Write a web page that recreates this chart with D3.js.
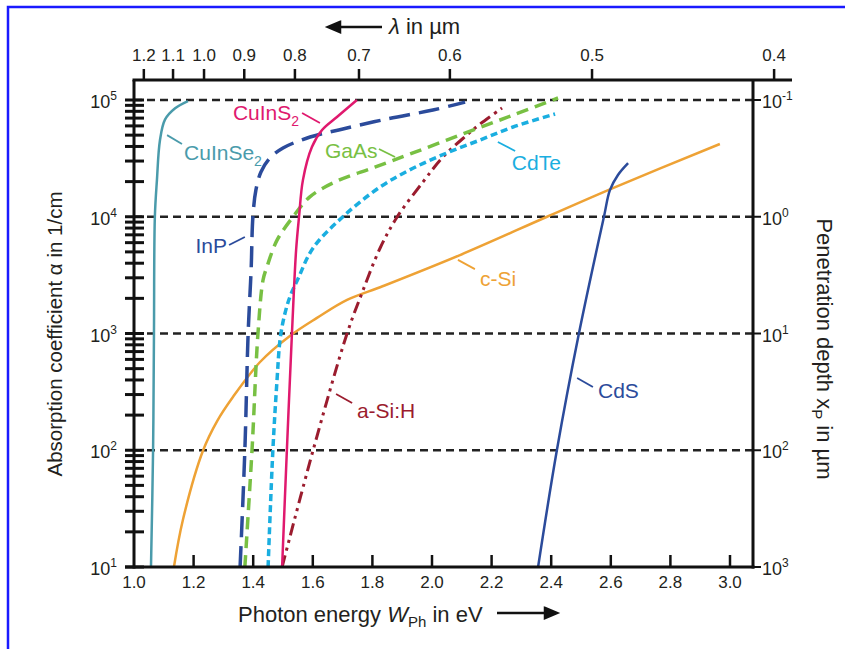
<!DOCTYPE html>
<html>
<head>
<meta charset="utf-8">
<script src="https://cdn.jsdelivr.net/npm/d3@7"></script>
<style>
  body { margin: 0; background: #fff; }
  svg { display: block; }
  text { font-family: "Liberation Sans", Arial, Helvetica, sans-serif; fill: #231f20; }
</style>
</head>
<body>
<div id="chart"></div>
<script>
// absorption curves: [photon energy in eV, alpha in 1/cm]
const cuInSe2 = [[1.057, 10], [1.064, 100], [1.067, 1000], [1.070, 1e4], [1.077, 2.07e4],
                 [1.087, 4.5e4], [1.104, 6.8e4], [1.138, 8.5e4], [1.181, 9.8e4]];
const inP = [[1.356, 10], [1.372, 100], [1.383, 1000], [1.393, 3500], [1.399, 1e4], [1.409, 1.69e4],
             [1.426, 2.42e4], [1.456, 3.18e4], [1.50, 3.88e4], [1.591, 4.82e4], [1.701, 5.65e4],
             [1.849, 6.88e4], [2.003, 8.2e4], [2.111, 9.6e4]];
const cuInS2 = [[1.497, 10], [1.513, 100], [1.530, 1000], [1.544, 5190], [1.554, 1.01e4],
                [1.567, 2.07e4], [1.597, 3.95e4], [1.631, 5.53e4], [1.681, 7.15e4], [1.748, 1e5]];
const gaAs = [[1.372, 10], [1.396, 100], [1.416, 1000], [1.433, 2870], [1.446, 3715], [1.48, 6300],
              [1.534, 1e4], [1.59, 1.48e4], [1.681, 2.02e4], [1.802, 2.62e4], [1.936, 3.52e4],
              [2.104, 5.12e4], [2.272, 7.43e4], [2.423, 1.04e5]];
const cdTe = [[1.45, 10], [1.466, 100], [1.48, 400], [1.49, 879], [1.503, 1360], [1.523, 2055],
              [1.55, 2930], [1.601, 5400], [1.701, 1e4], [1.826, 1.8e4], [1.936, 2.6e4],
              [2.05, 3.52e4], [2.161, 4.54e4], [2.272, 5.87e4], [2.413, 7.59e4]];
const aSiH = [[1.497, 10], [1.601, 100], [1.715, 1000], [1.765, 2220], [1.826, 5400], [1.883, 9950],
              [1.97, 1.99e4], [2.037, 3.25e4], [2.117, 5.01e4], [2.161, 6.22e4], [2.235, 8.53e4]];
const cSi = [[1.134, 10], [1.164, 25.3], [1.232, 100], [1.279, 178], [1.332, 286], [1.423, 570],
             [1.523, 953], [1.614, 1360], [1.715, 1940], [1.836, 2550], [2.094, 4700],
             [2.386, 1e4], [2.607, 1.76e4], [2.966, 4.2e4]];
const cdS = [[2.356, 10], [2.419, 100], [2.493, 1000], [2.577, 1e4], [2.597, 1.69e4],
             [2.624, 2.28e4], [2.658, 2.88e4]];

// axis ticks
const energyTicks = [1.0, 1.2, 1.4, 1.6, 1.8, 2.0, 2.2, 2.4, 2.6, 2.8, 3.0];
const alphaDecades = [1, 2, 3, 4, 5];
const depthDecades = [-1, 0, 1, 2, 3];
const lambdaTicks = ["1.2", "1.1", "1.0", "0.9", "0.8", "0.7", "0.6", "0.5", "0.4"];
const lambdaTickEnergy = [1.033, 1.131, 1.235, 1.37, 1.54, 1.755, 2.06, 2.537, 3.148];

// curve labels: text anchor [E, alpha], leader from / to
const curveLabels = [
  { text: "CuInSe", sub: "2", at: [1.168, 3.06e4], anchor: "start", from: [1.111, 5.0e4], to: [1.161, 4.2e4], color: "#4a9bab" },
  { text: "InP", sub: "", at: [1.312, 4900], anchor: "end", from: [1.319, 5730], to: [1.372, 6710], color: "#2b4b9b" },
  { text: "CuInS", sub: "2", at: [1.332, 6.75e4], anchor: "start", from: [1.564, 7.75e4], to: [1.624, 6.36e4], color: "#e0196e" },
  { text: "GaAs", sub: "", at: [1.641, 3.18e4], anchor: "start", from: [1.822, 3.8e4], to: [1.876, 3.25e4], color: "#78c043" },
  { text: "CdTe", sub: "", at: [2.268, 2.51e4], anchor: "start", from: [2.221, 4.37e4], to: [2.279, 3.66e4], color: "#1aaee0" },
  { text: "c-Si", sub: "", at: [2.161, 2550], anchor: "start", from: [2.087, 4270], to: [2.144, 3560], color: "#eea235" },
  { text: "a-Si:H", sub: "", at: [1.748, 189], anchor: "start", from: [1.678, 303], to: [1.732, 254], color: "#9b1c2e" },
  { text: "CdS", sub: "", at: [2.557, 281], anchor: "start", from: [2.487, 416], to: [2.54, 348], color: "#2b4b9b" }
];

const series = [
  { data: cuInSe2, color: "#4a9bab", w: 2.5, dash: null },
  { data: cSi, color: "#eea235", w: 2.5, dash: null },
  { data: cdS, color: "#2b4b9b", w: 2.5, dash: null },
  { data: aSiH, color: "#9b1c2e", w: 3, dash: "12,5,3,5,3,5" },
  { data: cdTe, color: "#1aaee0", w: 3.5, dash: "7,4" },
  { data: gaAs, color: "#78c043", w: 3.5, dash: "12,7" },
  { data: inP, color: "#2b4b9b", w: 3.5, dash: "21,9" },
  { data: cuInS2, color: "#e0196e", w: 2.5, dash: null }
];

const width = 845, height = 649;
const plotLeft = 134, plotRight = 753, plotTop = 80, plotBottom = 567;

const svg = d3.select("#chart").append("svg")
  .attr("width", width)
  .attr("height", height);

// blue frame of the figure
svg.append("path")
  .attr("d", `M8,${height} V7 H${width}`)
  .attr("fill", "none")
  .attr("stroke", "#1a1aff")
  .attr("stroke-width", 2.5);

const x = d3.scaleLinear().domain([1.0, 3.0]).range([plotLeft, 730]);
const y = d3.scaleLog().domain([10, 1e5]).range([plotBottom, 100]);

// dashed decade lines
svg.append("g")
  .selectAll("line")
  .data(alphaDecades.filter(d => d > 1))
  .join("line")
  .attr("x1", plotLeft).attr("x2", plotRight)
  .attr("y1", d => y(Math.pow(10, d))).attr("y2", d => y(Math.pow(10, d)))
  .attr("stroke", "#222")
  .attr("stroke-width", 2.5)
  .attr("stroke-dasharray", "8,5");

// curves
const line = d3.line()
  .x(d => x(d[0]))
  .y(d => y(d[1]))
  .curve(d3.curveCatmullRom.alpha(0.5));

svg.append("g")
  .selectAll("path")
  .data(series)
  .join("path")
  .attr("d", d => line(d.data))
  .attr("fill", "none")
  .attr("stroke", d => d.color)
  .attr("stroke-width", d => d.w)
  .attr("stroke-dasharray", d => d.dash);

// curve labels
const lab = svg.append("g")
  .selectAll("g")
  .data(curveLabels)
  .join("g");

lab.append("line")
  .attr("x1", d => x(d.from[0])).attr("y1", d => y(d.from[1]))
  .attr("x2", d => x(d.to[0])).attr("y2", d => y(d.to[1]))
  .attr("stroke", d => d.color)
  .attr("stroke-width", 1.8);

const labText = lab.append("text")
  .attr("x", d => x(d.at[0]))
  .attr("y", d => y(d.at[1]))
  .attr("text-anchor", d => d.anchor)
  .attr("font-size", 21)
  .style("fill", d => d.color);
labText.append("tspan").text(d => d.text);
labText.filter(d => d.sub).append("tspan")
  .attr("dy", 6)
  .attr("font-size", 14)
  .text(d => d.sub);

// axis frame
const axis = svg.append("g").attr("stroke", "#111").attr("fill", "none");
axis.append("line").attr("x1", plotLeft).attr("x2", plotLeft).attr("y1", plotTop).attr("y2", plotBottom + 1.5).attr("stroke-width", 3);
axis.append("line").attr("x1", plotRight).attr("x2", plotRight).attr("y1", plotTop).attr("y2", plotBottom + 1.5).attr("stroke-width", 3);
axis.append("line").attr("x1", 125).attr("x2", plotRight + 1.5).attr("y1", plotBottom).attr("y2", plotBottom).attr("stroke-width", 3);
axis.append("line").attr("x1", plotLeft - 1.5).attr("x2", 792).attr("y1", plotTop).attr("y2", plotTop).attr("stroke-width", 3);

// left ticks, decades and 2..9 minors
const leftTicks = [];
alphaDecades.forEach(p => {
  leftTicks.push(Math.pow(10, p));
  if (p < 5) for (let m = 2; m <= 9; m++) leftTicks.push(m * Math.pow(10, p));
});
axis.selectAll(".lt")
  .data(leftTicks)
  .join("line")
  .attr("x1", 125).attr("x2", 144)
  .attr("y1", d => y(d)).attr("y2", d => y(d))
  .attr("stroke-width", 3);

// bottom ticks
axis.selectAll(".bt")
  .data(energyTicks.slice(1))
  .join("line")
  .attr("x1", d => x(d)).attr("x2", d => x(d))
  .attr("y1", plotBottom).attr("y2", plotBottom - 12)
  .attr("stroke-width", 2.5);

// top ticks (wavelength)
axis.selectAll(".tt")
  .data(lambdaTickEnergy)
  .join("line")
  .attr("x1", d => x(d)).attr("x2", d => x(d))
  .attr("y1", plotTop).attr("y2", plotTop - 11)
  .attr("stroke-width", 2.5);

// right ticks
axis.selectAll(".rt")
  .data(depthDecades)
  .join("line")
  .attr("x1", plotRight).attr("x2", plotRight + 8)
  .attr("y1", d => y(1e4 / Math.pow(10, d))).attr("y2", d => y(1e4 / Math.pow(10, d)))
  .attr("stroke-width", 2);

// tick labels
const fmt = d3.format(".1f");
svg.append("g")
  .selectAll("text")
  .data(energyTicks)
  .join("text")
  .attr("x", d => x(d))
  .attr("y", 588)
  .attr("text-anchor", "middle")
  .attr("font-size", 17)
  .text(d => fmt(d));

svg.append("g")
  .selectAll("text")
  .data(lambdaTicks)
  .join("text")
  .attr("x", (d, i) => x(lambdaTickEnergy[i]))
  .attr("y", 61)
  .attr("text-anchor", "middle")
  .attr("font-size", 17)
  .text(d => d);

const leftLab = svg.append("g")
  .selectAll("text")
  .data(alphaDecades)
  .join("text")
  .attr("x", 117)
  .attr("y", d => y(Math.pow(10, d)) + 8)
  .attr("text-anchor", "end")
  .attr("font-size", 18);
leftLab.append("tspan").text("10");
leftLab.append("tspan").attr("dy", -8).attr("font-size", 12).text(d => d);

const rightLab = svg.append("g")
  .selectAll("text")
  .data(depthDecades)
  .join("text")
  .attr("x", 762)
  .attr("y", d => y(1e4 / Math.pow(10, d)) + 8)
  .attr("font-size", 18);
rightLab.append("tspan").text("10");
rightLab.append("tspan").attr("dy", -8).attr("font-size", 12).text(d => d);

// axis titles
svg.append("text")
  .attr("transform", "translate(62,334) rotate(-90)")
  .attr("text-anchor", "middle")
  .attr("font-size", 20.5)
  .text("Absorption coefficient \u03b1 in 1/cm");

const rTitle = svg.append("text")
  .attr("transform", "translate(817,349) rotate(90)")
  .attr("text-anchor", "middle")
  .attr("font-size", 22);
rTitle.append("tspan").text("Penetration depth x");
rTitle.append("tspan").attr("dy", 5).attr("font-size", 15).text("P");
rTitle.append("tspan").attr("dy", -5).text(" in \u00b5m");

const bTitle = svg.append("text")
  .attr("x", 238)
  .attr("y", 622)
  .attr("font-size", 22);
bTitle.append("tspan").text("Photon energy ");
bTitle.append("tspan").attr("font-style", "italic").text("W");
bTitle.append("tspan").attr("dy", 5).attr("font-size", 15).text("Ph");
bTitle.append("tspan").attr("dy", -5).text(" in eV");

const tTitle = svg.append("text")
  .attr("x", 389)
  .attr("y", 34)
  .attr("font-size", 22);
tTitle.append("tspan").attr("font-style", "italic").text("\u03bb");
tTitle.append("tspan").text(" in \u00b5m");

// direction arrows
svg.append("path")
  .attr("d", "M497,613 H545 M545,608 L557,613 L545,618 Z")
  .attr("stroke", "#111").attr("stroke-width", 2.5).attr("fill", "#111");
svg.append("path")
  .attr("d", "M382,27 H340 M340,22 L328,27 L340,32 Z")
  .attr("stroke", "#111").attr("stroke-width", 2.5).attr("fill", "#111");
</script>
</body>
</html>
